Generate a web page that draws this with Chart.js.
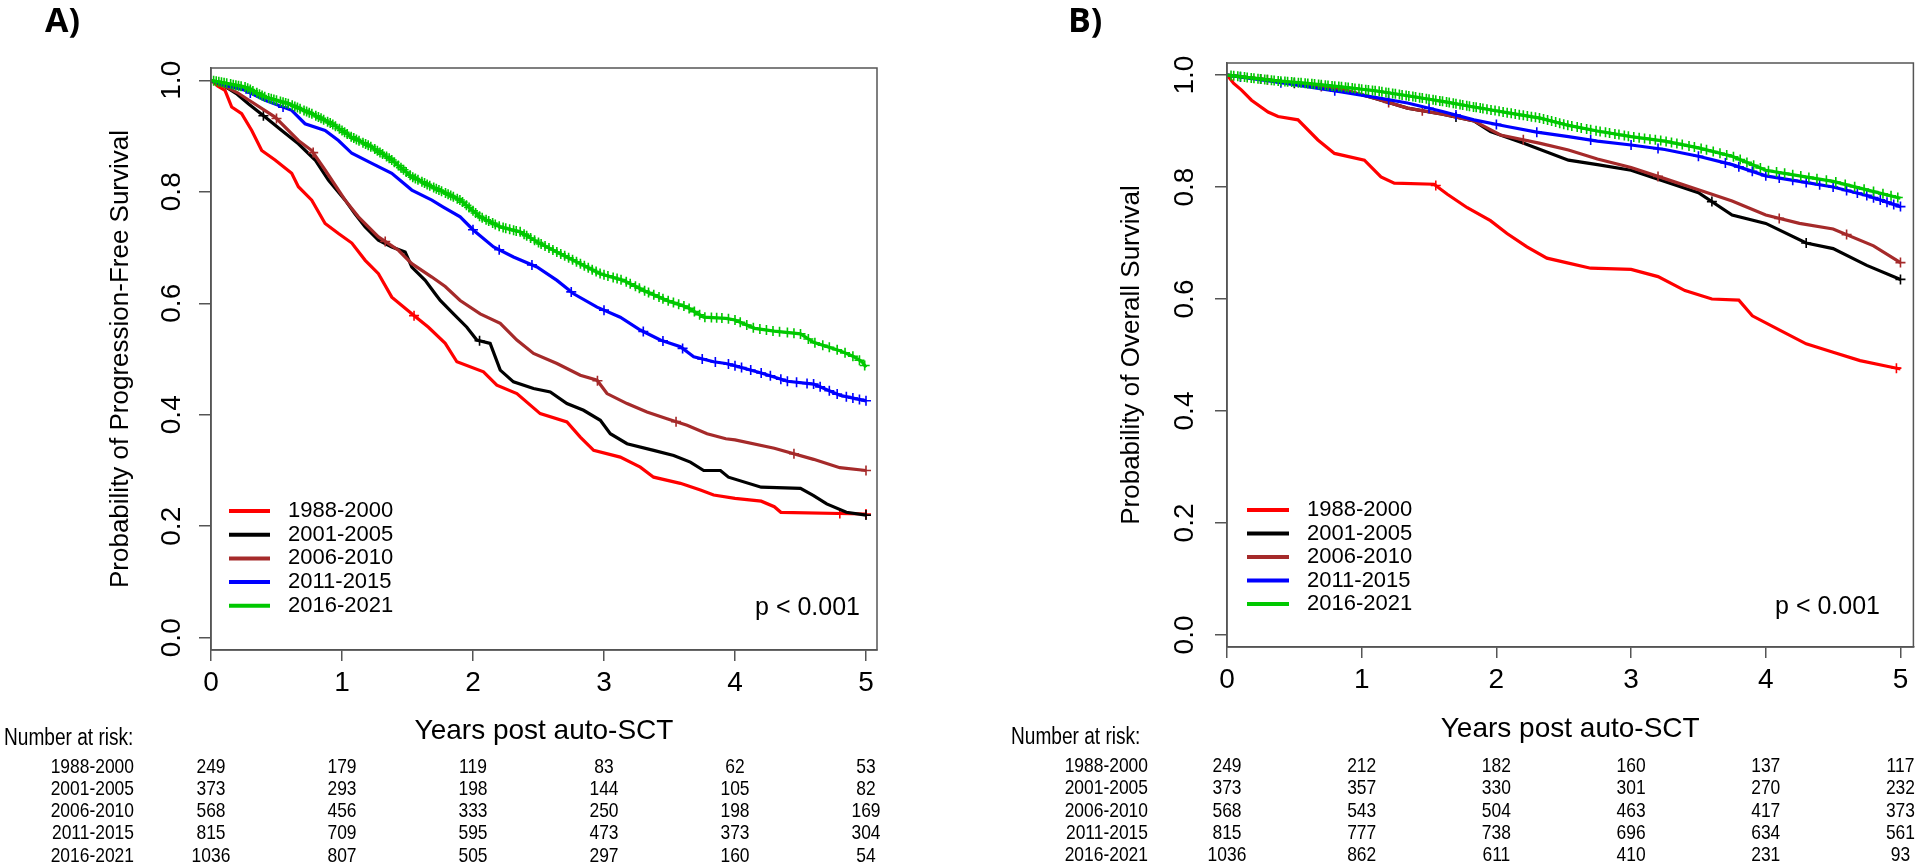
<!DOCTYPE html>
<html><head><meta charset="utf-8">
<script src="https://cdn.jsdelivr.net/npm/chart.js@4.4.1/dist/chart.umd.min.js"></script>
<style>
html,body{margin:0;padding:0;background:#fff;width:1920px;height:865px;overflow:hidden}
.panel{position:absolute;top:0;height:865px}
#pa{left:0;width:1000px}
#pb{left:1000px;width:920px}
</style></head><body>
<div class="panel" id="pa"><canvas id="ca"></canvas></div>
<div class="panel" id="pb"><canvas id="cb"></canvas></div>
<script>
// ---------- shared labels ----------
const groups = ['1988-2000','2001-2005','2006-2010','2011-2015','2016-2021'];
const colors = ['#FF0000','#000000','#A52A2A','#0000FF','#00C800'];
const xTicks = [0,1,2,3,4,5];
const yTicks = [0,0.2,0.4,0.6,0.8,1.0];
const yTickLabels = ['0.0','0.2','0.4','0.6','0.8','1.0'];

// ---------- Panel A: progression-free survival ----------
const pfsRedT = [0,0.05,0.107,0.158,0.234,0.311,0.387,0.489,0.616,0.667,0.769,0.871,0.973,1.075,1.177,1.278,1.38,1.533,1.66,1.788,1.877,2.08,2.182,2.335,2.513,2.717,2.819,2.921,3.124,3.277,3.379,3.583,3.736,3.837,4.0,4.2,4.3,4.35,5.0];
const pfsRedV = [1,0.99,0.982,0.952,0.94,0.91,0.874,0.857,0.833,0.809,0.785,0.743,0.725,0.708,0.677,0.653,0.611,0.581,0.557,0.528,0.495,0.477,0.453,0.438,0.402,0.387,0.36,0.336,0.324,0.306,0.288,0.277,0.265,0.256,0.25,0.245,0.235,0.225,0.222];
const pfsBlackT = [0,0.1,0.2,0.285,0.413,0.54,0.667,0.795,0.896,1.024,1.1,1.177,1.278,1.38,1.482,1.533,1.635,1.711,1.75,1.851,1.953,2.029,2.131,2.208,2.309,2.462,2.59,2.717,2.844,2.972,3.048,3.176,3.379,3.532,3.659,3.761,3.889,3.95,4.2,4.5,4.6,4.7,4.85,5.0];
const pfsBlackV = [1,0.99,0.975,0.958,0.934,0.91,0.886,0.857,0.821,0.785,0.76,0.737,0.713,0.701,0.692,0.665,0.641,0.617,0.605,0.581,0.557,0.534,0.528,0.48,0.459,0.447,0.441,0.42,0.408,0.39,0.366,0.348,0.336,0.327,0.315,0.3,0.3,0.288,0.27,0.268,0.255,0.24,0.225,0.22];
const pfsBrownT = [0,0.1,0.2,0.285,0.489,0.667,0.769,0.871,1.024,1.125,1.278,1.431,1.533,1.686,1.788,1.902,2.055,2.208,2.335,2.462,2.641,2.819,2.947,3.023,3.176,3.328,3.481,3.634,3.787,3.93,4.0,4.3,4.6,4.8,5.0];
const pfsBrownV = [1,0.99,0.978,0.965,0.934,0.892,0.874,0.839,0.785,0.755,0.719,0.695,0.671,0.647,0.63,0.605,0.581,0.564,0.534,0.51,0.492,0.471,0.462,0.438,0.42,0.405,0.393,0.381,0.366,0.357,0.355,0.34,0.32,0.305,0.30];
const pfsBlueT = [0,0.107,0.26,0.413,0.616,0.718,0.871,0.973,1.075,1.228,1.38,1.533,1.686,1.77,1.902,2.004,2.157,2.309,2.488,2.641,2.768,2.947,3.124,3.277,3.43,3.583,3.685,3.837,3.93,4.0,4.2,4.4,4.6,4.8,5.0];
const pfsBlueV = [1,0.991,0.982,0.964,0.946,0.922,0.91,0.892,0.869,0.851,0.833,0.803,0.785,0.773,0.755,0.731,0.701,0.683,0.665,0.641,0.617,0.593,0.575,0.552,0.534,0.522,0.504,0.495,0.492,0.488,0.475,0.46,0.455,0.435,0.425];
const pfsGreenT = [0,0.26,0.413,0.591,0.769,0.922,1.075,1.228,1.38,1.533,1.686,1.77,1.902,2.055,2.208,2.361,2.513,2.666,2.819,2.972,3.15,3.303,3.481,3.634,3.761,3.93,4.0,4.15,4.3,4.5,4.6,4.8,4.9,4.97,5.0];
const pfsGreenV = [1,0.988,0.97,0.958,0.94,0.922,0.898,0.88,0.857,0.827,0.809,0.8,0.785,0.755,0.737,0.728,0.707,0.689,0.671,0.653,0.641,0.623,0.605,0.593,0.575,0.573,0.57,0.555,0.55,0.545,0.53,0.515,0.505,0.495,0.485];

const pfsCensRed = [1.55,4.8,5.0];
const pfsCensBlack = [0.4,2.05,5.0];
const pfsCensBrown = [0.5,0.78,1.33,2.95,3.55,4.45,5.0];
const pfsCensBlue = [0.3,0.55,2.0,2.2,2.45,2.75,3.0,3.3,3.45,3.6,3.75,3.85,3.95,4.0,4.05,4.12,4.2,4.27,4.35,4.4,4.47,4.55,4.6,4.65,4.72,4.78,4.85,4.9,4.95,5.0];
const pfsCensGreen = [0.02,0.04,0.06,0.08,0.1,0.12,0.15,0.17,0.19,0.21,0.23,0.26,0.28,0.3,0.32,0.35,0.37,0.39,0.41,0.44,0.46,0.48,0.5,0.53,0.55,0.57,0.59,0.62,0.64,0.66,0.68,0.71,0.73,0.75,0.77,0.8,0.82,0.84,0.86,0.89,0.91,0.93,0.95,0.98,1.0,1.02,1.04,1.07,1.09,1.11,1.13,1.16,1.18,1.2,1.22,1.25,1.27,1.29,1.31,1.34,1.36,1.38,1.4,1.43,1.45,1.47,1.49,1.52,1.54,1.56,1.58,1.61,1.63,1.65,1.67,1.7,1.72,1.74,1.76,1.79,1.81,1.83,1.85,1.88,1.9,1.92,1.95,1.97,2.0,2.02,2.05,2.07,2.1,2.12,2.15,2.17,2.2,2.23,2.25,2.28,2.31,2.33,2.36,2.39,2.41,2.44,2.47,2.5,2.52,2.55,2.58,2.61,2.64,2.67,2.7,2.73,2.76,2.79,2.82,2.85,2.88,2.91,2.94,2.97,3.0,3.03,3.07,3.1,3.13,3.17,3.2,3.24,3.27,3.31,3.34,3.38,3.42,3.45,3.49,3.53,3.57,3.61,3.65,3.69,3.73,3.77,3.82,3.86,3.9,3.95,4.0,4.04,4.09,4.14,4.19,4.24,4.29,4.34,4.4,4.45,4.5,4.56,4.61,4.67,4.72,4.78,4.84,4.9,4.95,4.99];

const pfsRiskRed = [249,179,119,83,62,53];
const pfsRiskBlack = [373,293,198,144,105,82];
const pfsRiskBrown = [568,456,333,250,198,169];
const pfsRiskBlue = [815,709,595,473,373,304];
const pfsRiskGreen = [1036,807,505,297,160,54];

// ---------- Panel B: overall survival ----------
const osRedT = [0,0.05,0.108,0.182,0.305,0.379,0.527,0.675,0.798,1.02,1.143,1.242,1.537,1.636,1.784,1.956,2.079,2.227,2.375,2.535,2.7,3.0,3.2,3.4,3.6,3.8,3.9,4.1,4.3,4.5,4.7,4.9,5.0];
const osRedV = [1,0.985,0.973,0.955,0.934,0.926,0.92,0.884,0.86,0.848,0.818,0.807,0.805,0.787,0.763,0.74,0.717,0.693,0.673,0.664,0.655,0.653,0.64,0.615,0.6,0.598,0.57,0.545,0.52,0.505,0.49,0.48,0.475];
const osBlackT = [0,0.35,0.85,1.1,1.34,1.6,1.833,1.956,2.203,2.535,2.75,3.0,3.25,3.5,3.75,4.0,4.3,4.5,4.75,5.0];
const osBlackV = [1,0.99,0.975,0.958,0.941,0.93,0.918,0.899,0.878,0.848,0.84,0.83,0.81,0.79,0.75,0.735,0.70,0.69,0.66,0.635];
const osBrownT = [0,0.35,0.85,1.1,1.34,1.6,1.833,2.03,2.326,2.535,2.75,3.0,3.25,3.5,3.75,4.0,4.25,4.5,4.8,5.0];
const osBrownV = [1,0.99,0.975,0.958,0.941,0.93,0.918,0.893,0.878,0.866,0.85,0.835,0.815,0.795,0.775,0.75,0.735,0.725,0.695,0.665];
const osBlueT = [0,0.35,0.85,1.1,1.34,1.6,1.833,2.079,2.3,2.535,2.75,3.0,3.25,3.5,3.75,4.0,4.25,4.5,4.75,5.0];
const osBlueV = [1,0.988,0.97,0.96,0.95,0.935,0.92,0.908,0.898,0.89,0.882,0.875,0.867,0.855,0.84,0.82,0.81,0.8,0.785,0.765];
const osGreenT = [0,0.355,0.6,0.848,1.1,1.34,1.6,1.833,2.1,2.326,2.535,2.75,3.0,3.25,3.5,3.75,4.0,4.25,4.5,4.75,5.0];
const osGreenV = [1,0.99,0.985,0.979,0.972,0.963,0.953,0.943,0.932,0.923,0.91,0.9,0.89,0.882,0.87,0.855,0.83,0.82,0.81,0.795,0.78];

const osCensRed = [1.55,4.97];
const osCensBlack = [0.25,0.5,1.7,3.6,4.3,5.0];
const osCensBrown = [0.3,0.7,1.2,1.45,2.2,3.2,4.1,4.6,5.0];
const osCensBlue = [0.1,0.4,0.8,1.2,1.5,1.7,2.0,2.3,2.7,3.0,3.2,3.5,3.7,3.8,3.9,4.0,4.1,4.2,4.3,4.4,4.5,4.6,4.68,4.75,4.8,4.85,4.9,4.95,5.0];
const osCensGreen = [0.03,0.05,0.08,0.1,0.13,0.15,0.18,0.2,0.23,0.25,0.28,0.3,0.33,0.35,0.38,0.4,0.43,0.45,0.48,0.5,0.53,0.55,0.58,0.6,0.63,0.65,0.68,0.7,0.73,0.75,0.78,0.8,0.83,0.85,0.88,0.9,0.93,0.95,0.98,1.0,1.03,1.05,1.08,1.1,1.13,1.15,1.18,1.2,1.23,1.25,1.28,1.3,1.33,1.35,1.38,1.4,1.43,1.45,1.48,1.5,1.53,1.55,1.58,1.6,1.63,1.65,1.68,1.7,1.73,1.75,1.78,1.8,1.83,1.85,1.88,1.9,1.93,1.96,1.99,2.02,2.05,2.08,2.11,2.14,2.17,2.2,2.23,2.26,2.29,2.32,2.35,2.38,2.41,2.44,2.47,2.5,2.53,2.56,2.6,2.63,2.67,2.7,2.74,2.77,2.81,2.84,2.88,2.91,2.95,2.98,3.02,3.06,3.1,3.14,3.18,3.22,3.26,3.3,3.34,3.38,3.43,3.47,3.52,3.56,3.61,3.66,3.71,3.76,3.81,3.86,3.91,3.96,4.02,4.08,4.14,4.2,4.26,4.32,4.38,4.45,4.52,4.59,4.66,4.73,4.8,4.87,4.93,4.98];

const osRiskRed = [249,212,182,160,137,117];
const osRiskBlack = [373,357,330,301,270,232];
const osRiskBrown = [568,543,504,463,417,373];
const osRiskBlue = [815,777,738,696,634,561];
const osRiskGreen = [1036,862,611,410,231,93];

// ---------- drawing helpers ----------
const SANS = "'Liberation Sans', Arial, Helvetica, sans-serif";

// y of a curve at time t (point on the drawn polyline)
function curveValue(T, V, t) {
  if (t <= T[0]) return V[0];
  for (let j = 1; j < T.length; j++) {
    if (t <= T[j]) {
      const f = (t - T[j - 1]) / (T[j] - T[j - 1]);
      return V[j - 1] + f * (V[j] - V[j - 1]);
    }
  }
  return V[V.length - 1];
}

function makePanel(canvasId, spec) {
  const datasets = [];
  for (let i = 0; i < 5; i++) {
    const T = spec.curvesT[i], V = spec.curvesV[i];
    datasets.push({
      label: groups[i],
      data: T.map((t, j) => ({x: t, y: V[j]})),
      borderColor: colors[i], backgroundColor: colors[i],
      borderWidth: 3.2, pointRadius: 0, fill: false, tension: 0,
      order: 4 - i
    });
    datasets.push({
      label: groups[i] + ' censored',
      data: spec.cens[i].map(t => ({x: t, y: curveValue(T, V, t)})),
      showLine: false, pointStyle: 'cross', pointRadius: 5,
      pointBorderWidth: 1.6, borderColor: colors[i], backgroundColor: colors[i],
      order: 4 - i
    });
  }
  const L = spec.layout;
  const overlay = {
    id: 'overlay',
    afterDraw(chart) {
      const ctx = chart.ctx, a = chart.chartArea;
      const xs = chart.scales.x, ys = chart.scales.y;
      ctx.save();
      // box
      ctx.strokeStyle = '#555'; ctx.lineWidth = 1.5;
      ctx.strokeRect(a.left, a.top, a.right - a.left, a.bottom - a.top);
      ctx.fillStyle = '#000';
      // rotated y tick labels
      ctx.font = '28px ' + SANS; ctx.textAlign = 'center'; ctx.textBaseline = 'middle';
      yTicks.forEach((v, k) => {
        ctx.save();
        ctx.translate(a.left - L.yLabelOff, ys.getPixelForValue(v));
        ctx.rotate(-Math.PI / 2);
        ctx.fillText(yTickLabels[k], 0, 0);
        ctx.restore();
      });
      // y title
      ctx.font = '26px ' + SANS;
      ctx.save();
      ctx.translate(a.left - L.yTitleOff, (a.top + a.bottom) / 2);
      ctx.rotate(-Math.PI / 2);
      ctx.fillText(spec.yTitle, 0, 0);
      ctx.restore();
      // x title
      ctx.font = '28px ' + SANS;
      ctx.fillText('Years post auto-SCT', (a.left + a.right) / 2, L.xTitleY);
      // legend
      ctx.font = '22px ' + SANS; ctx.textAlign = 'left';
      groups.forEach((g, i) => {
        const y = L.legY0 + i * L.legDy;
        ctx.strokeStyle = colors[i]; ctx.lineWidth = 4;
        ctx.beginPath(); ctx.moveTo(L.legX0, y); ctx.lineTo(L.legX1, y); ctx.stroke();
        ctx.fillStyle = '#000';
        ctx.fillText(g, L.legTextX, y);
      });
      // p value
      ctx.font = '25px ' + SANS; ctx.textAlign = 'right';
      ctx.fillText('p < 0.001', L.pX, L.pY);
      // panel letter
      ctx.font = 'bold 34px ' + "'Open Sans', " + SANS; ctx.textAlign = 'left';
      ctx.fillText(spec.letter, L.letterX, L.letterY);
      // number at risk table (narrow lettering: horizontally condensed)
      const SX = 0.83;
      const narrowText = (txt, x, y, align) => {
        ctx.save();
        ctx.translate(x, y); ctx.scale(SX, 1);
        ctx.textAlign = align;
        ctx.fillText(txt, 0, 0);
        ctx.restore();
      };
      ctx.font = '23px ' + SANS;
      narrowText('Number at risk:', L.nrX, L.nrY, 'left');
      ctx.font = '21px ' + SANS;
      groups.forEach((g, i) => {
        const y = L.rowY[i];
        narrowText(g, L.rowLabelX, y, 'right');
        spec.risk[i].forEach((n, k) => narrowText(String(n), xs.getPixelForValue(xTicks[k]), y, 'center'));
      });
      ctx.restore();
    }
  };
  return new Chart(document.getElementById(canvasId), {
    type: 'line',
    data: {datasets},
    options: {
      responsive: true, maintainAspectRatio: false, animation: false, events: [],
      layout: {padding: L.padding},
      plugins: {legend: {display: false}, tooltip: {enabled: false}, title: {display: false}},
      scales: {
        x: {
          type: 'linear', min: 0, max: spec.xMax,
          afterBuildTicks: s => { s.ticks = xTicks.map(v => ({value: v})); },
          afterFit: s => { s.height = 60; },
          ticks: {color: '#000', font: {size: 28, family: SANS}, padding: L.xTickPad, maxRotation: 0, autoSkip: false},
          grid: {display: true, drawOnChartArea: false, drawTicks: true, tickLength: 11, color: '#555', lineWidth: 1.5},
          border: {display: true, color: '#555', width: 1.5}
        },
        y: {
          type: 'linear', min: spec.yMin, max: spec.yMax,
          afterBuildTicks: s => { s.ticks = yTicks.map(v => ({value: v})); },
          afterFit: s => { s.width = 20; },
          ticks: {display: false},
          grid: {display: true, drawOnChartArea: false, drawTicks: true, tickLength: 12, color: '#555', lineWidth: 1.5},
          border: {display: true, color: '#555', width: 1.5}
        }
      }
    },
    plugins: [overlay]
  });
}

makePanel('ca', {
  letter: 'A)',
  yTitle: 'Probability of Progression-Free Survival',
  curvesT: [pfsRedT, pfsBlackT, pfsBrownT, pfsBlueT, pfsGreenT],
  curvesV: [pfsRedV, pfsBlackV, pfsBrownV, pfsBlueV, pfsGreenV],
  cens: [pfsCensRed, pfsCensBlack, pfsCensBrown, pfsCensBlue, pfsCensGreen],
  risk: [pfsRiskRed, pfsRiskBlack, pfsRiskBrown, pfsRiskBlue, pfsRiskGreen],
  xMax: 5.084, yMin: -0.022, yMax: 1.022,
  layout: {
    padding: {left: 191, right: 123, top: 68, bottom: 155},
    xTickPad: 5, yLabelOff: 39, yTitleOff: 90, xTitleY: 731,
    legX0: 229, legX1: 270, legTextX: 288, legY0: 511, legDy: 23.7,
    pX: 860, pY: 608, letterX: 45, letterY: 22,
    nrX: 4, nrY: 739, rowLabelX: 134, rowY: [767, 789, 811, 833, 856]
  }
});

makePanel('cb', {
  letter: 'B)',
  yTitle: 'Probability of Overall Survival',
  curvesT: [osRedT, osBlackT, osBrownT, osBlueT, osGreenT],
  curvesV: [osRedV, osBlackV, osBrownV, osBlueV, osGreenV],
  cens: [osCensRed, osCensBlack, osCensBrown, osCensBlue, osCensGreen],
  risk: [osRiskRed, osRiskBlack, osRiskBrown, osRiskBlue, osRiskGreen],
  xMax: 5.096, yMin: -0.0215, yMax: 1.0215,
  layout: {
    padding: {left: 207, right: 4, top: 63, bottom: 158},
    xTickPad: 5, yLabelOff: 42, yTitleOff: 95, xTitleY: 729,
    legX0: 247, legX1: 289, legTextX: 307, legY0: 510, legDy: 23.5,
    pX: 880, pY: 607, letterX: 68, letterY: 22,
    nrX: 11, nrY: 738, rowLabelX: 148, rowY: [766, 788, 811, 833, 855]
  }
});
</script>
</body></html>
